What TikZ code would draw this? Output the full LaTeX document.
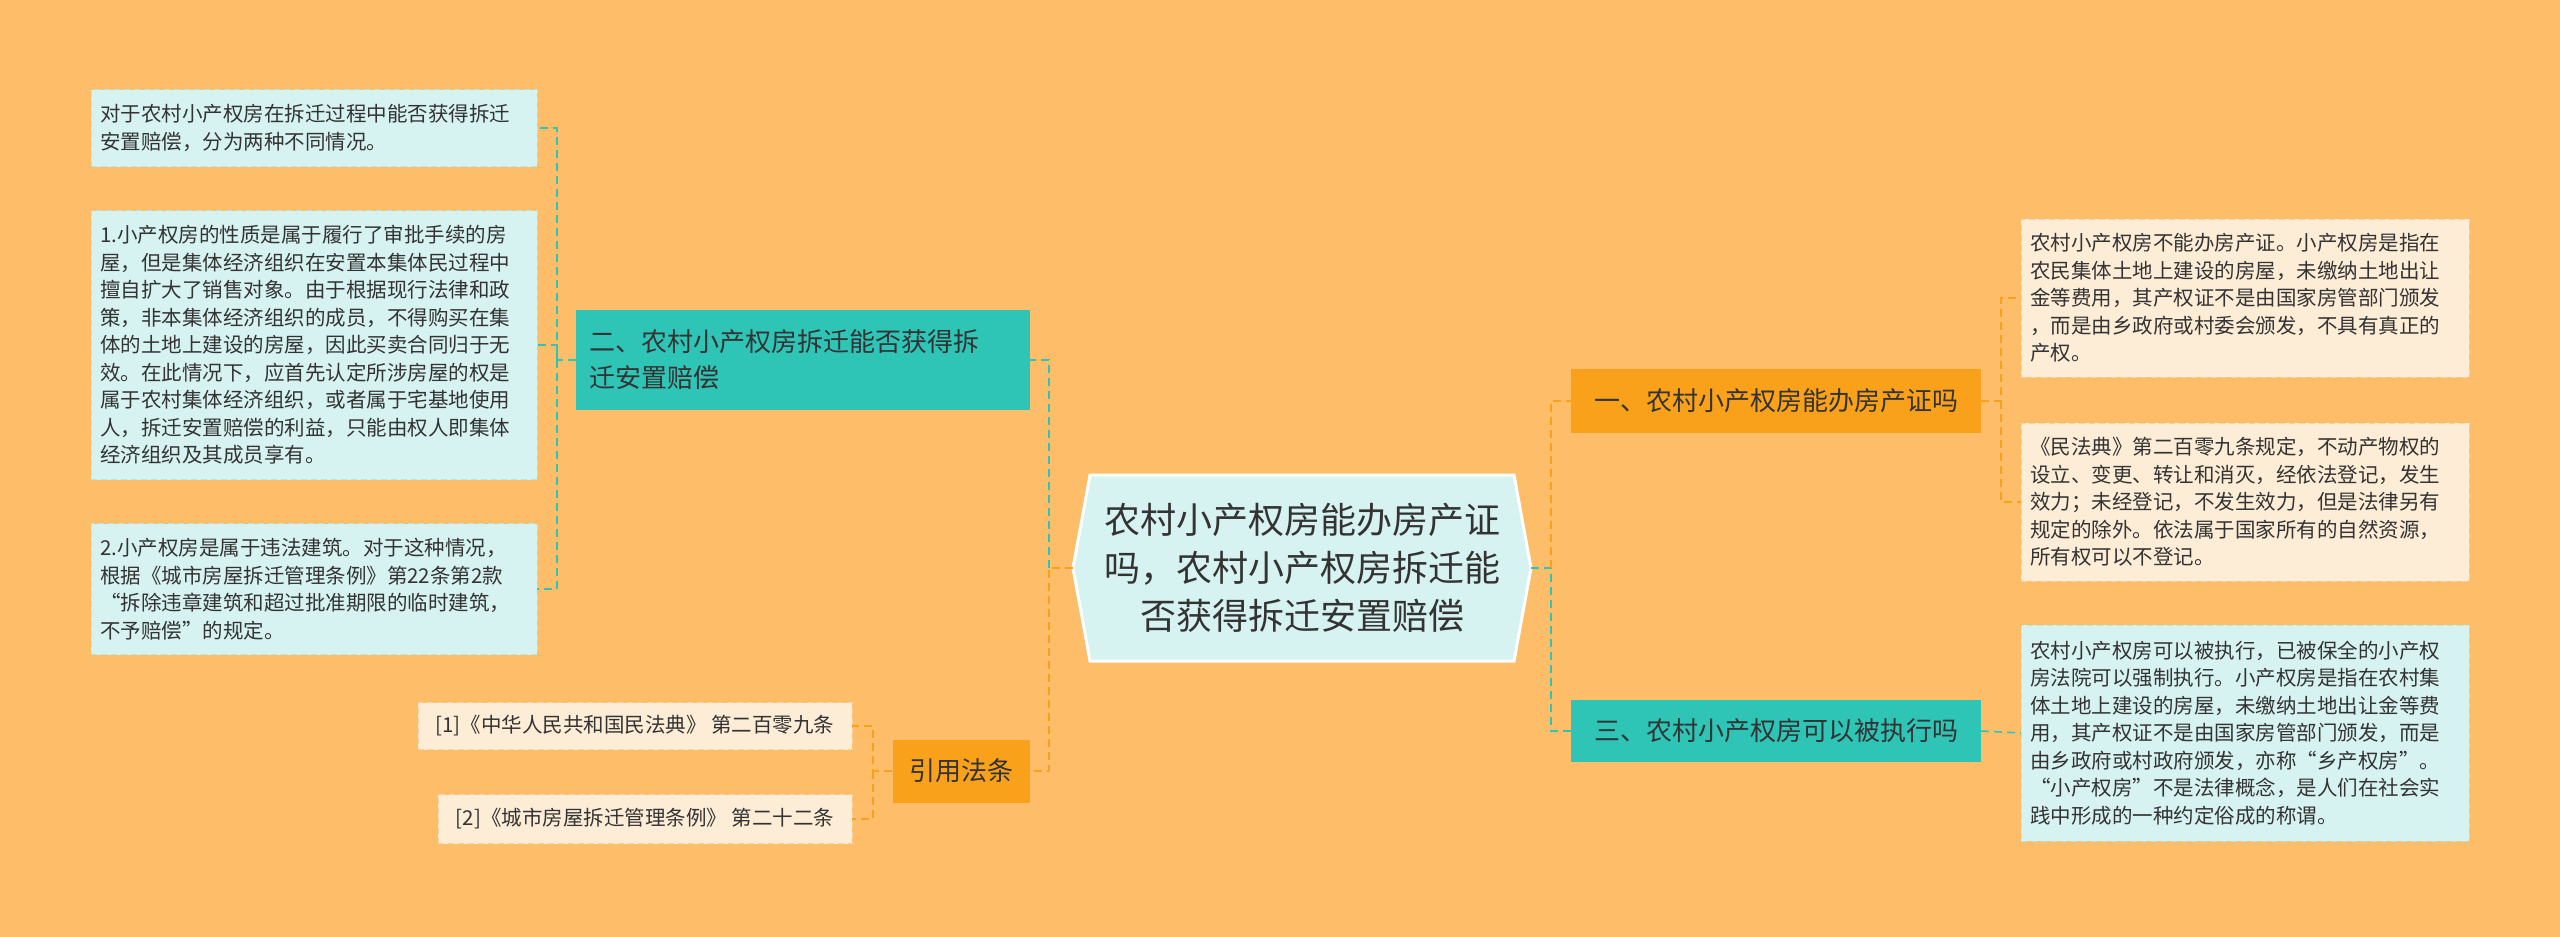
\documentclass[tikz,border=0pt]{standalone}
\usepackage{fontspec}
\setmainfont{Noto Sans CJK SC}
\begin{document}
\begin{tikzpicture}[x=1pt,y=-1pt,
  leaft/.style={draw=tealb,dash pattern=on 6pt off 4pt,fill=lteal,text=txt,font=\fontsize{20.5}{27.5}\selectfont,align=left,inner xsep=9pt,inner ysep=0pt,anchor=center},
  leafc/.style={draw=creamb,dash pattern=on 6pt off 4pt,fill=cream,text=txt,font=\fontsize{20.5}{27.5}\selectfont,align=left,inner xsep=9pt,inner ysep=0pt,anchor=center},
  brt/.style={fill=teal1,text=txt,font=\fontsize{26}{36}\selectfont,align=left,inner sep=0pt,anchor=center},
  bro/.style={fill=orange1,text=txt,font=\fontsize{26}{36}\selectfont,align=left,inner sep=0pt,anchor=center},
  lo/.style={draw=orange1,dash pattern=on 8pt off 5pt,line width=1.5pt},
  lt/.style={draw=teal1,dash pattern=on 8pt off 5pt,line width=1.5pt}]
\definecolor{bgc}{HTML}{FEBD69}
\definecolor{lteal}{HTML}{D6F3F1}
\definecolor{tealb}{HTML}{B5E6E0}
\definecolor{cream}{HTML}{FDEDD6}
\definecolor{creamb}{HTML}{F3D3A6}
\definecolor{teal1}{HTML}{2EC4B6}
\definecolor{orange1}{HTML}{F9A11B}
\definecolor{txt}{HTML}{333333}
\useasboundingbox (0,0) rectangle (2560,937);
\fill[bgc] (0,0) rectangle (2560,937);
% center hexagon
\draw[draw=white,line width=3pt,fill=lteal] (1073,568) -- (1090,475) -- (1514,475) -- (1531,568) -- (1514,661) -- (1090,661) -- cycle;
\node[text=txt,font=\fontsize{36}{48}\selectfont,align=center] (c) at (1302,568) {农村小产权房能办房产证\\吗，农村小产权房拆迁能\\否获得拆迁安置赔偿};
% right branches
\node[bro,minimum width=410pt,minimum height=64pt] (b1) at (1776,401) {\hspace*{12pt}一、农村小产权房能办房产证吗\hspace*{12pt}};
\node[brt,minimum width=410pt,minimum height=62pt] (b3) at (1776,731) {\hspace*{12pt}三、农村小产权房可以被执行吗\hspace*{12pt}};
\node[leafc,text width=430pt,minimum height=158pt] (r1) at (2245,298) {农村小产权房不能办房产证。小产权房是指在\\农民集体土地上建设的房屋，未缴纳土地出让\\金等费用，其产权证不是由国家房管部门颁发\\，而是由乡政府或村委会颁发，不具有真正的\\产权。};
\node[leafc,text width=430pt,minimum height=158pt] (r2) at (2245,502) {《民法典》第二百零九条规定，不动产物权的\\设立、变更、转让和消灭，经依法登记，发生\\效力；未经登记，不发生效力，但是法律另有\\规定的除外。依法属于国家所有的自然资源，\\所有权可以不登记。};
\node[leaft,text width=430pt,minimum height=216pt] (r3) at (2245,733) {农村小产权房可以被执行，已被保全的小产权\\房法院可以强制执行。小产权房是指在农村集\\体土地上建设的房屋，未缴纳土地出让金等费\\用，其产权证不是由国家房管部门颁发，而是\\由乡政府或村政府颁发，亦称“乡产权房”。\\“小产权房”不是法律概念，是人们在社会实\\践中形成的一种约定俗成的称谓。};
% left branch
\node[brt,minimum width=454pt,minimum height=100pt,text width=428pt] (b2) at (803,360) {二、农村小产权房拆迁能否获得拆\\迁安置赔偿};
\node[leaft,text width=428pt,minimum height=77pt] (l1) at (314,128) {对于农村小产权房在拆迁过程中能否获得拆迁\\安置赔偿，分为两种不同情况。};
\node[leaft,text width=428pt,minimum height=269pt] (l2) at (314,345) {1.小产权房的性质是属于履行了审批手续的房\\屋，但是集体经济组织在安置本集体民过程中\\擅自扩大了销售对象。由于根据现行法律和政\\策，非本集体经济组织的成员，不得购买在集\\体的土地上建设的房屋，因此买卖合同归于无\\效。在此情况下，应首先认定所涉房屋的权是\\属于农村集体经济组织，或者属于宅基地使用\\人，拆迁安置赔偿的利益，只能由权人即集体\\经济组织及其成员享有。};
\node[leaft,text width=428pt,minimum height=131pt] (l3) at (314,589) {2.小产权房是属于违法建筑。对于这种情况，\\根据《城市房屋拆迁管理条例》第22条第2款\\“拆除违章建筑和超过批准期限的临时建筑，\\不予赔偿”的规定。};
% citations
\node[bro,minimum width=137pt,minimum height=63pt,align=center] (h) at (961,771) {引用法条};
\node[leafc,minimum width=434pt,minimum height=47pt,align=right,inner xsep=12pt] (c1) at (635,726) {[1]《中华人民共和国民法典》 第二百零九条};
\node[leafc,minimum width=414pt,minimum height=49pt,align=right,inner xsep=12pt] (c2) at (645,819) {[2]《城市房屋拆迁管理条例》 第二十二条};
% connectors
\coordinate (cl) at ([xshift=-24pt]c.center -| 1073,0);
\coordinate (cl) at (1049,568);
\coordinate (cr) at (1551,568);
\coordinate (k1) at (2001,401);
\coordinate (k2) at (557,360);
\coordinate (k3) at (873,771);
\draw[lo] (1073,568) -- (cl) |- (h.east);
\draw[lt] (cl) |- (b2.east);
\draw[lt] (1531,568) -- (cr) |- (b3.west);
\draw[lo] (cr) |- (b1.west);
\draw[lo] (b1.east) -- (k1) |- (r1.west);
\draw[lo] (k1) |- (r2.west);
\draw[lt] (b3.east) -- (r3.west);
\draw[lt] (b2.west) -- (k2) |- (l1.east);
\draw[lt] (k2) |- (l2.east);
\draw[lt] (k2) |- (l3.east);
\draw[lo] (h.west) -- (k3) |- (c1.east);
\draw[lo] (k3) |- (c2.east);
\end{tikzpicture}
\end{document}
